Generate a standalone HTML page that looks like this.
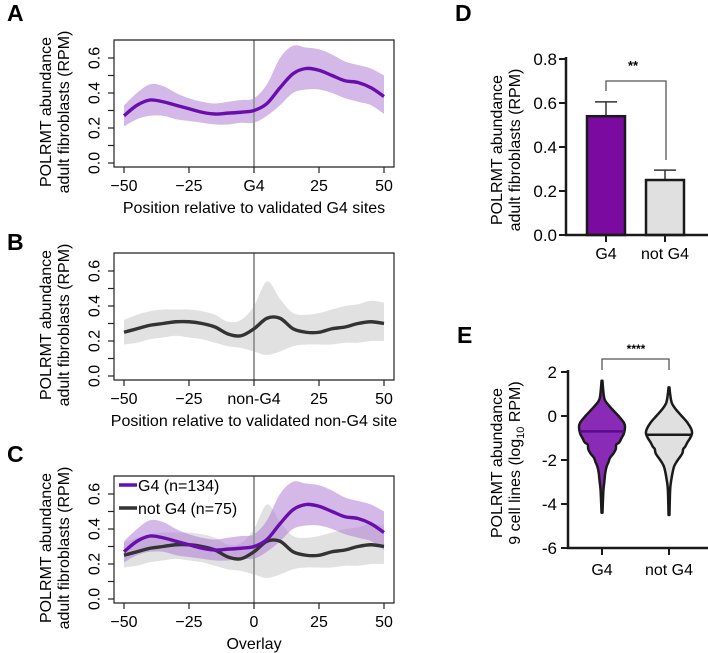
<!DOCTYPE html>
<html><head><meta charset="utf-8"><style>
body{margin:0;background:#fff;}
svg{display:block;font-family:"Liberation Sans",Arial,sans-serif;}
</style></head><body>
<svg id="fig" width="708" height="653" viewBox="0 0 708 653" xmlns="http://www.w3.org/2000/svg"></svg>
<script>
// ---- Data ----
const positions = [-50,-45,-40,-35,-30,-25,-20,-15,-10,-5,0,5,10,15,20,25,30,35,40,45,50];
const g4Mean  = [0.27,0.33,0.36,0.35,0.33,0.31,0.29,0.28,0.285,0.29,0.30,0.34,0.43,0.51,0.54,0.53,0.50,0.47,0.46,0.43,0.38];
const g4Upper = [0.33,0.40,0.45,0.44,0.40,0.37,0.35,0.34,0.35,0.36,0.37,0.45,0.60,0.67,0.66,0.65,0.62,0.58,0.56,0.54,0.50];
const g4Lower = [0.21,0.25,0.27,0.27,0.25,0.24,0.23,0.22,0.22,0.23,0.23,0.27,0.33,0.40,0.42,0.42,0.40,0.37,0.35,0.33,0.28];
const ngMean  = [0.25,0.27,0.29,0.30,0.31,0.31,0.30,0.28,0.24,0.23,0.27,0.33,0.33,0.27,0.25,0.25,0.27,0.28,0.30,0.31,0.30];
const ngUpper = [0.32,0.35,0.37,0.38,0.38,0.38,0.37,0.35,0.31,0.32,0.40,0.54,0.44,0.36,0.35,0.36,0.38,0.40,0.41,0.43,0.42];
const ngLower = [0.18,0.19,0.21,0.22,0.23,0.22,0.21,0.19,0.17,0.16,0.14,0.12,0.14,0.17,0.18,0.18,0.18,0.19,0.19,0.20,0.20];
const yTicksLine = [0.0,0.2,0.4,0.6];
const barCats = ["G4","not G4"];
const barVals = [0.54,0.25];
const barErr = [0.065,0.045];
const barTicks = [0.0,0.2,0.4,0.6,0.8];
const violinCats = ["G4","not G4"];
const violinY_g4 = [1.6,1.2,0.8,0.6,0.3,0,-0.3,-0.5,-0.8,-1.0,-1.2,-1.3,-1.5,-1.7,-1.9,-2.1,-2.3,-2.6,-3.0,-3.4,-4.4];
const violinD_g4 = [0.02,0.05,0.1,0.2,0.45,0.72,0.95,1.0,0.95,0.85,0.75,0.62,0.6,0.5,0.35,0.28,0.2,0.14,0.1,0.06,0.02];
const violinY_ng = [1.3,1.0,0.6,0.3,0,-0.3,-0.6,-0.8,-1.0,-1.2,-1.4,-1.5,-1.7,-1.9,-2.1,-2.3,-2.6,-2.9,-3.2,-3.6,-4.5];
const violinD_ng = [0.02,0.05,0.12,0.3,0.55,0.8,0.97,1.0,0.92,0.8,0.7,0.62,0.58,0.45,0.32,0.22,0.15,0.1,0.06,0.04,0.02];
const violinMedians = [-0.7,-0.85];
const violinTicks = [2,0,-2,-4,-6];

const NS="http://www.w3.org/2000/svg";
const svg=document.getElementById('fig');
function el(tag,attrs,parent){const e=document.createElementNS(NS,tag);for(const k in attrs)e.setAttribute(k,attrs[k]);(parent||svg).appendChild(e);return e;}
function txt(s,x,y,attrs){const t=el('text',Object.assign({x:x,y:y},attrs||{}));t.textContent=s;return t;}
function smooth(pts){let d='M'+pts[0][0]+','+pts[0][1];for(let i=0;i<pts.length-1;i++){const p0=pts[Math.max(0,i-1)],p1=pts[i],p2=pts[i+1],p3=pts[Math.min(pts.length-1,i+2)];
 const c1=[p1[0]+(p2[0]-p0[0])/6,p1[1]+(p2[1]-p0[1])/6],c2=[p2[0]-(p3[0]-p1[0])/6,p2[1]-(p3[1]-p1[1])/6];
 d+='C'+c1[0]+','+c1[1]+' '+c2[0]+','+c2[1]+' '+p2[0]+','+p2[1];}return d;}
function band(xs,up,lo,sx,sy){const u=xs.map((x,i)=>[sx(x),sy(up[i])]);const l=xs.map((x,i)=>[sx(x),sy(lo[i])]).reverse();
 return smooth(u)+'L'+l[0][0]+','+l[0][1]+smooth(l).slice(smooth(l).indexOf('C'))+'Z';}

// Panel letters
[['A',7,21],['B',7,250],['C',7,462],['D',455,21],['E',457,343]].forEach(([s,x,y])=>{
 const t=txt(s,x,y,{'font-size':'23','font-weight':'bold'});
 
 
});

function linePanel(name,y0,centerLabel,xtitle,series,legend){
 const g=el('g',{});
 
 
 const sx=v=>124+(v+50)*2.6;
 const sy=v=>y0-v*175;
 series.forEach(s=>{const p=el('path',{d:band(positions,s.up,s.lo,sx,sy),fill:s.band,'fill-opacity':s.op},g);
  
  });
 const v=el('line',{x1:sx(0),x2:sx(0),y1:y0-123,y2:y0+4,stroke:'#999','stroke-width':2},g);
 
 
 series.forEach(s=>{const p=el('path',{d:smooth(positions.map((x,i)=>[sx(x),sy(s.mean[i])])),fill:'none',stroke:s.line,'stroke-width':3.4},g);
  
  });
 const b=el('path',{d:`M114,${y0-123}H394V${y0+4}H114Z`,fill:'none',stroke:'#222','stroke-width':1.2},g);
 
 
 yTicksLine.concat([0.1,0.3,0.5]).forEach(t=>{el('line',{x1:108,x2:114,y1:sy(t),y2:sy(t),stroke:'#222','stroke-width':1.2},g);});
 yTicksLine.forEach(t=>{const tl=txt(t.toFixed(1),95,sy(t),{'font-size':'16','text-anchor':'middle',transform:`rotate(-90 95 ${sy(t)})`,'dominant-baseline':'central'});g.appendChild(tl);
  
  });
 const xt=[-50,-25,0,25,50];
 xt.forEach(t=>{el('line',{x1:sx(t),x2:sx(t),y1:y0+4,y2:y0+10,stroke:'#222','stroke-width':1.2},g);
  const lab=t===0?centerLabel:(t<0?'\u2212'+(-t):String(t));
  const tl=txt(lab,sx(t),y0+28,{'font-size':'16','text-anchor':'middle'});g.appendChild(tl);
  
  });
 const xtl=txt(xtitle,254,y0+50,{'font-size':'16','text-anchor':'middle'});g.appendChild(xtl);
 
 
 const cy=y0-51;
 const yt=el('text',{'font-size':'16','text-anchor':'middle',transform:`translate(51 ${cy}) rotate(-90)`},g);
 
 
 const t1=el('tspan',{x:0,y:0},yt);t1.textContent='POLRMT abundance';
 const t2=el('tspan',{x:0,y:18},yt);t2.textContent='adult fibroblasts (RPM)';
 if(legend){legend.forEach((l,i)=>{const ly=y0-114+i*23;
  const ll=el('line',{x1:119,x2:137,y1:ly,y2:ly,stroke:l.c,'stroke-width':3.4},g);
  
  
  const lt=txt(l.t,138,ly+6,{'font-size':'16'});g.appendChild(lt);
  
  });}
}
const g4S={key:'g4',mean:g4Mean,up:g4Upper,lo:g4Lower,band:'#b17fd6',op:0.55,line:'#6a0dad'};
const ngS={key:'not-g4',mean:ngMean,up:ngUpper,lo:ngLower,band:'#c8c8c8',op:0.55,line:'#333'};
linePanel('panel-a',163,'G4','Position relative to validated G4 sites',[g4S]);
linePanel('panel-b',376,'non-G4','Position relative to validated non-G4 site',[ngS]);
linePanel('panel-c',599,'0','Overlay',[ngS,g4S],[{t:'G4 (n=134)',c:'#6a0dad'},{t:'not G4 (n=75)',c:'#333'}]);

// Panel D bar chart
(function(){
 const g=el('g',{});
 
 
 const sy=v=>235-v*220;
 const cx=[606,665];
 const fills=['#7a0aa0','#e0e0e0'];
 barVals.forEach((v,i)=>{
  const e=el('line',{x1:cx[i],x2:cx[i],y1:sy(v),y2:sy(v+barErr[i]),stroke:'#333','stroke-width':1.5},g);
  
  
  el('line',{x1:cx[i]-11,x2:cx[i]+11,y1:sy(v+barErr[i]),y2:sy(v+barErr[i]),stroke:'#333','stroke-width':1.5},g);
  const r=el('rect',{x:cx[i]-19,y:sy(v),width:38,height:sy(0)-sy(v),fill:fills[i],stroke:'#1a1a1a','stroke-width':2.5},g);
  
  
  el('line',{x1:cx[i],x2:cx[i],y1:235,y2:242,stroke:'#1a1a1a','stroke-width':2},g);
  const tl=txt(barCats[i],cx[i],259,{'font-size':'16','text-anchor':'middle'});g.appendChild(tl);
  
  
 });
 el('path',{d:'M566,57V235H708',fill:'none',stroke:'#1a1a1a','stroke-width':2.5},g);
 barTicks.forEach(t=>{el('line',{x1:559,x2:566,y1:sy(t),y2:sy(t),stroke:'#1a1a1a','stroke-width':2},g);
  const tl=txt(t.toFixed(1),557,sy(t)+6,{'font-size':'17','text-anchor':'end'});g.appendChild(tl);
  
  });
 const br=el('path',{d:'M606,91V81H666V160',fill:'none',stroke:'#555','stroke-width':1.3},g);
 
 
 const st=txt('**',633,70,{'font-size':'13','font-weight':'bold','text-anchor':'middle'});g.appendChild(st);
 
 
 const yt=el('text',{'font-size':'16','text-anchor':'middle',transform:'translate(502 150) rotate(-90)'},g);
 
 
 el('tspan',{x:0,y:0},yt).textContent='POLRMT abundance';
 el('tspan',{x:0,y:18},yt).textContent='adult fibroblasts (RPM)';
})();

// Panel E violin
(function(){
 const g=el('g',{});
 
 
 const sy=v=>416-v*22;
 const cx=[602,669];
 const fills=['#8a2bb8','#e0e0e0'];
 const med=['#5a0a8a','#1a1a1a'];
 const Ys=[violinY_g4,violinY_ng],Ds=[violinD_g4,violinD_ng];
 cx.forEach((c,i)=>{
  const W=23;
  const Y=Ys[i],D=Ds[i];
  const right=Y.map((y,k)=>[c+D[k]*W,sy(y)]);
  const left=Y.map((y,k)=>[c-D[k]*W,sy(y)]).reverse();
  const ls=smooth(left);
  const d=smooth(right)+'L'+left[0][0]+','+left[0][1]+ls.slice(ls.indexOf('C'))+'Z';
  const p=el('path',{d:d,fill:fills[i],stroke:'#1a1a1a','stroke-width':2.5,'stroke-linejoin':'round'},g);
  
  
  const m=violinMedians[i];
  let k=0;while(k<Y.length-1&&Y[k+1]>m)k++;
  const f=(m-Y[k])/(Y[k+1]-Y[k]);const hw=(D[k]+(D[k+1]-D[k])*f)*W;
  const ml=el('line',{x1:c-hw,x2:c+hw,y1:sy(m),y2:sy(m),stroke:med[i],'stroke-width':2.5},g);
  
  
  el('line',{x1:c,x2:c,y1:548,y2:555,stroke:'#1a1a1a','stroke-width':2},g);
  const tl=txt(violinCats[i],c,575,{'font-size':'16','text-anchor':'middle'});g.appendChild(tl);
  
  
 });
 el('path',{d:'M568,370V548H708',fill:'none',stroke:'#1a1a1a','stroke-width':2.5},g);
 violinTicks.forEach(t=>{el('line',{x1:561,x2:568,y1:sy(t),y2:sy(t),stroke:'#1a1a1a','stroke-width':2},g);
  const tl=txt(String(t),557,sy(t)+6,{'font-size':'17','text-anchor':'end'});g.appendChild(tl);
  
  });
 const br=el('path',{d:'M602,370V359H669V370',fill:'none',stroke:'#555','stroke-width':1.3},g);
 
 
 const st=txt('****',636,353,{'font-size':'12','font-weight':'bold','text-anchor':'middle'});g.appendChild(st);
 
 
 const yt=el('text',{'font-size':'16','text-anchor':'middle',transform:'translate(502 463) rotate(-90)'},g);
 
 
 el('tspan',{x:0,y:0},yt).textContent='POLRMT abundance';
 const l2=el('tspan',{x:0,y:18},yt);l2.textContent='9 cell lines  (log';
 const sub=el('tspan',{'font-size':'11',dy:4},yt);sub.textContent='10';
 const l3=el('tspan',{dy:-4},yt);l3.textContent=' RPM)';
})();
</script>
</body></html>
